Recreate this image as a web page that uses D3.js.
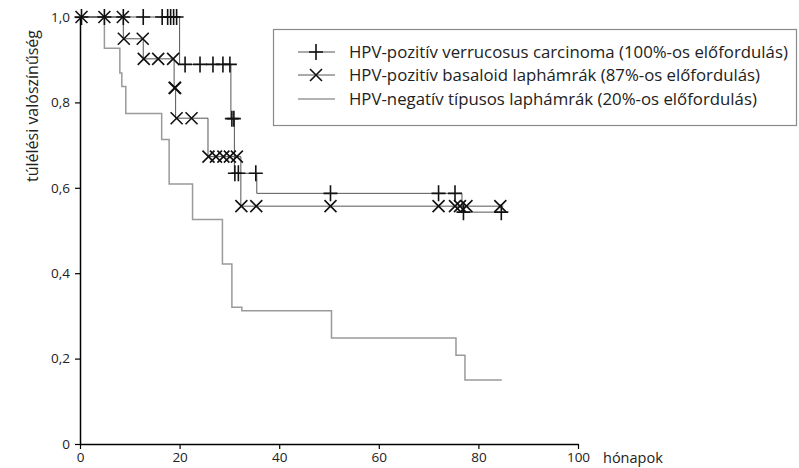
<!DOCTYPE html>
<html>
<head>
<meta charset="utf-8">
<script src="https://cdn.jsdelivr.net/npm/d3@7"></script>
<style>
  body { margin: 0; background: #fff; }
  svg { font-family: "Open Sans", sans-serif; }
</style>
</head>
<body>
<svg id="chart"></svg>
<script>
// verrucosus (+)
const verrEventTimes = [20, 30.3, 31.0, 35.5, 76.7];
const verrSurv = [0.889, 0.762, 0.634, 0.587, 0.543];
const verrCensor = [0.3, 4.9, 8.7, 12.7, 16.5, 17.6, 18.2, 18.8, 19.4,
  21.1, 24.1, 26.7, 28.7, 30.1, 30.5, 30.9, 31.1, 31.8, 35.3,
  50.3, 72, 75.3, 77.0, 84.6];
const verrEnd = 85;

// basaloid (x)
const basEventTimes = [8.7, 12.7, 18.9, 19.2, 25.7, 32.3];
const basSurv = [0.949, 0.902, 0.834, 0.763, 0.673, 0.557];
const basCensor = [0.3, 4.9, 8.6, 8.8, 12.6, 12.8, 15.7, 18.7, 19.0, 19.1,
  19.4, 22.4, 25.8, 27.3, 28.8, 30.1, 31.5, 32.4, 35.4,
  50.3, 72, 75.3, 76.3, 77.6, 84.4];
const basEnd = 85;

// HPV-negative (no markers)
const negEventTimes = [4.9, 8.0, 8.4, 9.2, 16.4, 17.9, 22.6, 28.6, 30.5, 32.5, 50.5, 75.5, 77.3];
const negSurv = [0.927, 0.869, 0.837, 0.774, 0.713, 0.609, 0.526, 0.4215, 0.32, 0.312, 0.248, 0.208, 0.15];
const negEnd = 84.7;

const xTicks = [0, 20, 40, 60, 80, 100];
const yTicks = [0, 0.2, 0.4, 0.6, 0.8, 1.0];
const yTickLabels = ["0", "0,2", "0,4", "0,6", "0,8", "1,0"];

const legendLabels = [
  "HPV-pozitív verrucosus carcinoma (100%-os előfordulás)",
  "HPV-pozitív basaloid laphámrák (87%-os előfordulás)",
  "HPV-negatív típusos laphámrák (20%-os előfordulás)"
];

const width = 799;
const height = 468;

const svg = d3.select("#chart").attr("width", width).attr("height", height);

const x = d3.scaleLinear().domain([0, 100]).range([80, 578]);
const y = d3.scaleLinear().domain([0, 1]).range([444, 17]);

function survAt(times, surv, t) {
  let s = 1;
  for (let i = 0; i < times.length; i++) {
    if (times[i] <= t) s = surv[i];
  }
  return s;
}

function stepPoints(times, surv, end) {
  const pts = [[0, 1]];
  times.forEach((t, i) => pts.push([t, surv[i]]));
  pts.push([end, surv[surv.length - 1]]);
  return pts;
}

const line = d3.line()
  .x((d) => x(d[0]))
  .y((d) => y(d[1]))
  .curve(d3.curveStepAfter);

// axes
const yAxis = d3.axisLeft(y)
  .tickValues(yTicks)
  .tickFormat((d, i) => yTickLabels[i])
  .tickSize(5)
  .tickSizeOuter(0)
  .tickPadding(5);

const xAxis = d3.axisBottom(x)
  .tickValues(xTicks)
  .tickSize(5)
  .tickSizeOuter(0)
  .tickPadding(3);

const gy = svg.append("g").attr("transform", "translate(80,0)").call(yAxis);
const gx = svg.append("g").attr("transform", "translate(0,444)").call(xAxis);

[gx, gy].forEach((g) => {
  g.select(".domain").attr("stroke", "#000").attr("stroke-width", 1.5);
  g.selectAll(".tick line").attr("stroke", "#000").attr("stroke-width", 1.2);
  g.selectAll(".tick text")
    .attr("fill", "#222")
    .style("font-size", "13.5px")
    .style("font-family", "'Open Sans', sans-serif");
});

svg.append("text")
  .attr("x", 603)
  .attr("y", 463)
  .attr("fill", "#222")
  .style("font-size", "14.5px")
  .text("hónapok");

svg.append("text")
  .attr("transform", "translate(38,106) rotate(-90)")
  .attr("text-anchor", "middle")
  .attr("fill", "#222")
  .style("font-size", "16px")
  .text("túlélési valószínűség");

// curves
svg.append("path")
  .datum(stepPoints(negEventTimes, negSurv, negEnd))
  .attr("d", line)
  .attr("fill", "none")
  .attr("stroke", "#9a9a9a")
  .attr("stroke-width", 1.5);

svg.append("path")
  .datum(stepPoints(basEventTimes, basSurv, basEnd))
  .attr("d", line)
  .attr("fill", "none")
  .attr("stroke", "#555")
  .attr("stroke-width", 1);

svg.append("path")
  .datum(stepPoints(verrEventTimes, verrSurv, verrEnd))
  .attr("d", line)
  .attr("fill", "none")
  .attr("stroke", "#555")
  .attr("stroke-width", 1);

const plusPath = (cx, cy) =>
  `M${cx - 7},${cy}H${cx + 7}M${cx},${cy - 8}V${cy + 8}`;
const crossPath = (cx, cy) =>
  `M${cx - 6},${cy - 6}L${cx + 6},${cy + 6}M${cx - 6},${cy + 6}L${cx + 6},${cy - 6}`;

svg.append("g")
  .selectAll("path")
  .data(basCensor)
  .join("path")
  .attr("d", (t) => crossPath(x(t), y(survAt(basEventTimes, basSurv, t))))
  .attr("stroke", "#111")
  .attr("stroke-width", 1.6)
  .attr("fill", "none");

svg.append("g")
  .selectAll("path")
  .data(verrCensor)
  .join("path")
  .attr("d", (t) => plusPath(x(t), y(survAt(verrEventTimes, verrSurv, t))))
  .attr("stroke", "#111")
  .attr("stroke-width", 1.6)
  .attr("fill", "none");

// legend
const legend = svg.append("g");
legend.append("rect")
  .attr("x", 273.5)
  .attr("y", 29.5)
  .attr("width", 523)
  .attr("height", 96)
  .attr("fill", "#fff")
  .attr("stroke", "#8a8a8a")
  .attr("stroke-width", 1.2);

const rowY = [52, 75, 99];
const rows = legend.selectAll("g.row")
  .data(legendLabels)
  .join("g")
  .attr("class", "row")
  .attr("transform", (d, i) => `translate(0,${rowY[i]})`);

rows.append("line")
  .attr("x1", 298).attr("x2", 335)
  .attr("y1", 0).attr("y2", 0)
  .attr("stroke", (d, i) => (i === 2 ? "#9a9a9a" : "#555"))
  .attr("stroke-width", (d, i) => (i === 2 ? 1.5 : 1));

rows.filter((d, i) => i < 2)
  .append("path")
  .attr("d", (d, i) => (i === 0 ? plusPath(316, 0) : crossPath(316, 0)))
  .attr("stroke", "#111")
  .attr("stroke-width", 1.6)
  .attr("fill", "none");

rows.append("text")
  .attr("x", 349)
  .attr("y", 0)
  .attr("dy", "0.35em")
  .attr("fill", "#222")
  .style("font-size", "16.8px")
  .text((d) => d);
</script>
</body>
</html>
